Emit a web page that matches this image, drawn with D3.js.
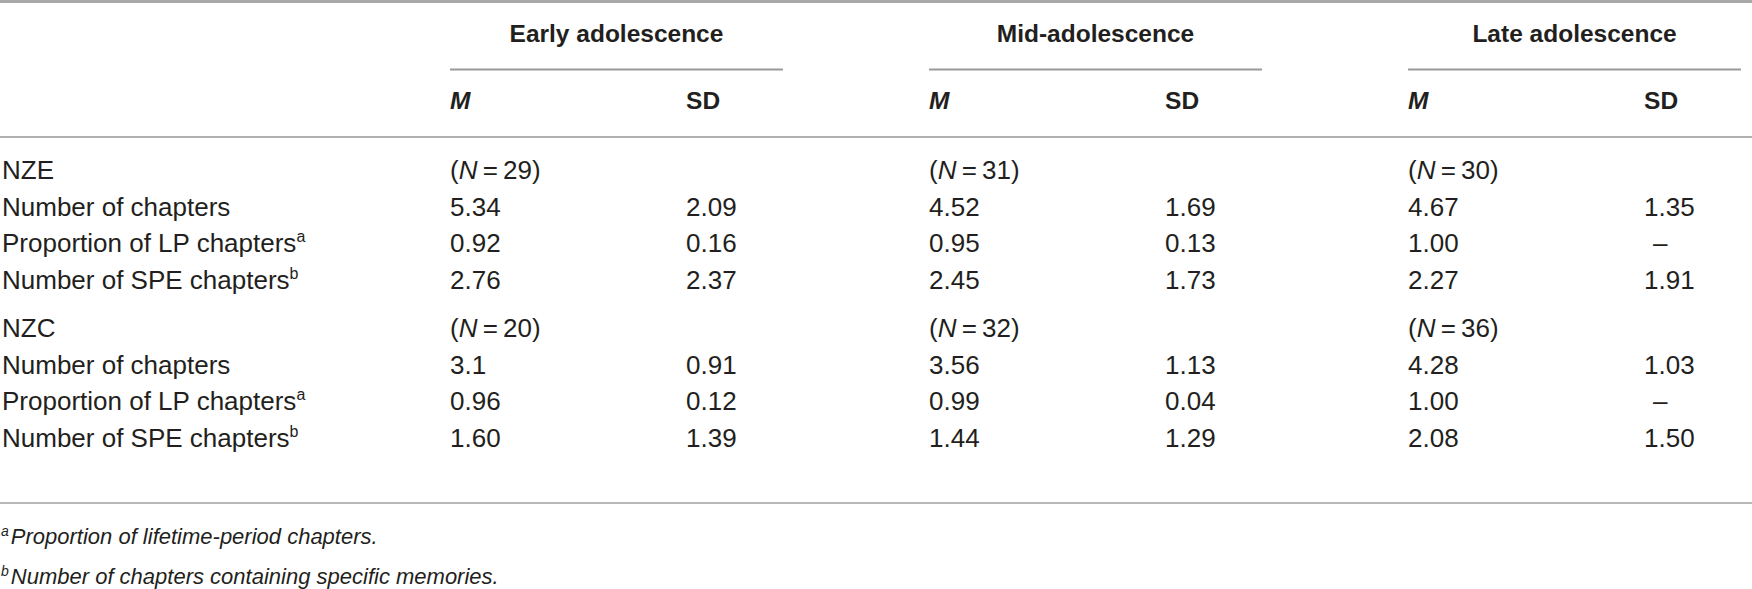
<!DOCTYPE html>
<html>
<head>
<meta charset="utf-8">
<script src="https://cdn.jsdelivr.net/npm/d3@7"></script>
<style>
  body { margin: 0; background: #fff; }
  svg { display: block; font-family: "Liberation Sans", Arial, sans-serif; }
</style>
</head>
<body>
<svg width="1752" height="589"></svg>
<script>
const groups = ["Early adolescence", "Mid-adolescence", "Late adolescence"];
const samples = ["NZE", "NZC"];
const sampleN = [[29, 31, 30], [20, 32, 36]];
const measures = ["Number of chapters", "Proportion of LP chapters", "Number of SPE chapters"];
const measureNotes = ["", "a", "b"];

// rows = measures, columns = groups (kept as text so "3.1" stays "3.1")
const nzeMeans = [["5.34", "4.52", "4.67"], ["0.92", "0.95", "1.00"], ["2.76", "2.45", "2.27"]];
const nzeSDs   = [["2.09", "1.69", "1.35"], ["0.16", "0.13", "–"],    ["2.37", "1.73", "1.91"]];
const nzcMeans = [["3.1", "3.56", "4.28"],  ["0.96", "0.99", "1.00"], ["1.60", "1.44", "2.08"]];
const nzcSDs   = [["0.91", "1.13", "1.03"], ["0.12", "0.04", "–"],    ["1.39", "1.29", "1.50"]];
const statHeads = ["M", "SD"];
const footnotes = [["a", "Proportion of lifetime-period chapters."], ["b", "Number of chapters containing specific memories."]];

const width = 1752;
const ink = "#231f20";

const svg = d3.select("svg");

// column groups
const xGroup = d3.scaleBand()
    .domain(groups)
    .range([450, 1741])
    .paddingInner(0.305);
const sdOffset = xGroup.bandwidth() * 0.709;

// body rows: 0..7, second sample gets an extra gap
const yRow = d3.scaleLinear().domain([0, 7]).range([179, 436]);
const sampleGap = 11;

const rows = [];
const tables = [[nzeMeans, nzeSDs], [nzcMeans, nzcSDs]];
samples.forEach((s, si) => {
    rows.push({label: s, note: "", kind: "n", sample: si, idx: si * 4});
    measures.forEach((m, mi) => {
        rows.push({label: m, note: measureNotes[mi], kind: "stat", sample: si, measure: mi, idx: si * 4 + mi + 1});
    });
});
const rowY = r => yRow(r.idx) + r.sample * sampleGap;

// rules
const rules = [
    {x1: 0, x2: width, y: 1.5, w: 3, c: "#a8a8a8"},
    {x1: 0, x2: width, y: 137, w: 2, c: "#b0b0b0"},
    {x1: 0, x2: width, y: 503, w: 2, c: "#b8b8b8"}
];
svg.selectAll("line.rule").data(rules).enter().append("line")
    .attr("class", "rule")
    .attr("x1", d => d.x1).attr("x2", d => d.x2)
    .attr("y1", d => d.y).attr("y2", d => d.y)
    .attr("stroke", d => d.c).attr("stroke-width", d => d.w);

// group headers + underline
const gh = svg.selectAll("g.grp").data(groups).enter().append("g").attr("class", "grp");
gh.append("text")
    .attr("x", d => xGroup(d) + xGroup.bandwidth() / 2)
    .attr("y", 42)
    .attr("text-anchor", "middle")
    .attr("font-size", 24.5)
    .attr("font-weight", "bold")
    .attr("fill", ink)
    .text(d => d);
gh.append("line")
    .attr("x1", d => xGroup(d)).attr("x2", d => xGroup(d) + xGroup.bandwidth())
    .attr("y1", 69.5).attr("y2", 69.5)
    .attr("stroke", "#999").attr("stroke-width", 2);
gh.selectAll("text.stat").data(statHeads).enter().append("text")
    .attr("class", "stat")
    .attr("x", (d, i, n) => xGroup(d3.select(n[i].parentNode).datum()) + (i ? sdOffset : 0))
    .attr("y", 109)
    .attr("font-size", 24.5)
    .attr("font-weight", "bold")
    .attr("font-style", (d, i) => i ? "normal" : "italic")
    .attr("fill", ink)
    .text(d => d);

// row labels
const lab = svg.selectAll("text.lab").data(rows).enter().append("text")
    .attr("class", "lab")
    .attr("x", 2)
    .attr("y", rowY)
    .attr("font-size", 26)
    .attr("fill", ink)
    .text(d => d.label);
lab.filter(d => d.note).append("tspan")
    .attr("dy", -10)
    .attr("font-size", 16)
    .text(d => d.note);

// cells
const cells = [];
rows.forEach(r => {
    groups.forEach((g, gi) => {
        if (r.kind === "n") {
            cells.push({row: r, group: g, col: 0, n: sampleN[r.sample][gi]});
        } else {
            const [means, sds] = tables[r.sample];
            cells.push({row: r, group: g, col: 0, v: means[r.measure][gi]});
            cells.push({row: r, group: g, col: 1, v: sds[r.measure][gi]});
        }
    });
});

const cell = svg.selectAll("text.cell").data(cells).enter().append("text")
    .attr("class", "cell")
    .attr("x", d => xGroup(d.group) + (d.col ? sdOffset : 0) + (d.v === "–" ? 9 : 0))
    .attr("y", d => rowY(d.row))
    .attr("font-size", 26)
    .attr("fill", ink);
cell.filter(d => d.n === undefined).text(d => d.v);
const nc = cell.filter(d => d.n !== undefined);
nc.append("tspan").text("(");
nc.append("tspan").attr("font-style", "italic").text("N");
nc.append("tspan").text(d => "\u2009=\u2009" + d.n + ")");

// footnotes
const fn = svg.selectAll("text.fn").data(footnotes).enter().append("text")
    .attr("class", "fn")
    .attr("x", 1)
    .attr("y", (d, i) => 544 + i * 40)
    .attr("font-size", 22)
    .attr("font-style", "italic")
    .attr("fill", ink);
fn.append("tspan").attr("font-size", 14).attr("dy", -8).text(d => d[0]);
fn.append("tspan").attr("dy", 8).attr("dx", 2).text(d => d[1]);
</script>
</body>
</html>
